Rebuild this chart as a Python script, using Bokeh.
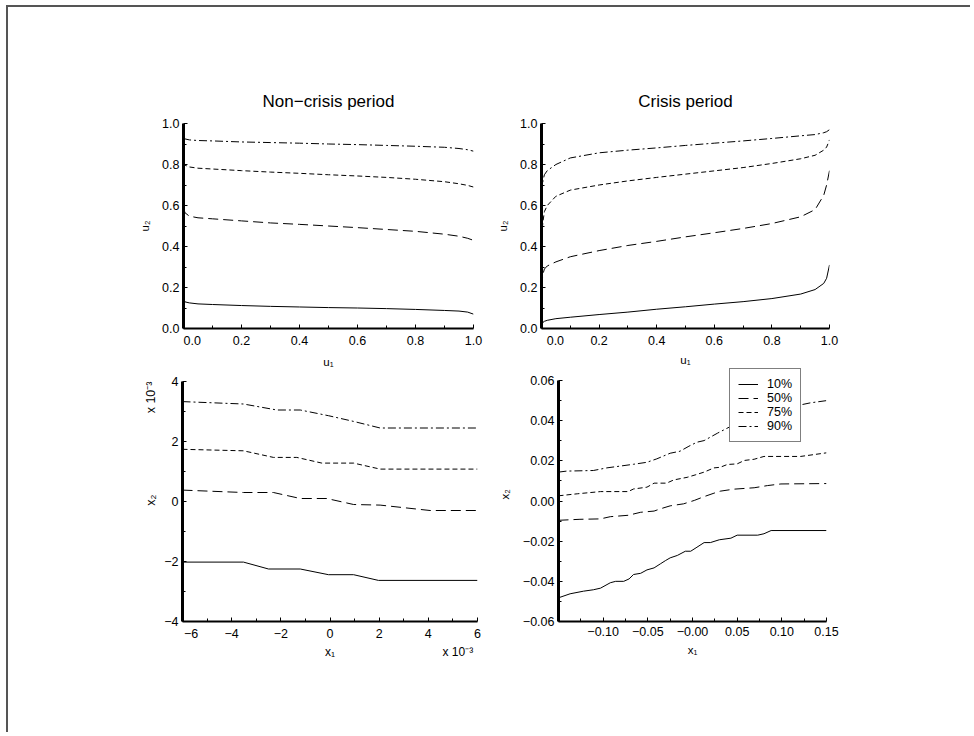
from math import pi
from bokeh.plotting import figure
from bokeh.models import FixedTicker, Legend, LegendItem, Range1d, LinearAxis
from bokeh.layouts import column, row
from bokeh.embed import file_html
from bokeh.resources import INLINE

FONT = "Liberation Sans"
INK = "black"

# ---------------- data ----------------
quantile_names = ["10%", "50%", "75%", "90%"]
quantile_dashes = ["solid", "10 5", "5 3", "8 3 2 3"]

# Top-left: non-crisis period, copula quantile curves u2 | u1
nc_u1 = [0.0, 0.005, 0.02, 0.05, 0.1, 0.2, 0.3, 0.4, 0.5, 0.6, 0.7, 0.8, 0.9, 0.95, 0.98, 1.0]
nc_q10 = [0.140, 0.130, 0.125, 0.120, 0.117, 0.112, 0.108, 0.105, 0.102, 0.100, 0.097, 0.093, 0.088, 0.085, 0.080, 0.070]
nc_q50 = [0.590, 0.565, 0.548, 0.540, 0.535, 0.525, 0.515, 0.508, 0.500, 0.492, 0.483, 0.474, 0.460, 0.450, 0.440, 0.430]
nc_q75 = [0.810, 0.797, 0.788, 0.782, 0.778, 0.770, 0.763, 0.757, 0.750, 0.744, 0.737, 0.728, 0.716, 0.706, 0.698, 0.690]
nc_q90 = [0.930, 0.925, 0.920, 0.917, 0.915, 0.910, 0.907, 0.904, 0.900, 0.897, 0.893, 0.889, 0.884, 0.878, 0.872, 0.865]

# Top-right: crisis period
cr_u1 = [0.0, 0.005, 0.01, 0.02, 0.05, 0.1, 0.2, 0.3, 0.4, 0.5, 0.6, 0.7, 0.8, 0.9, 0.95, 0.98, 0.99, 1.0]
cr_q10 = [0.020, 0.030, 0.035, 0.040, 0.048, 0.055, 0.068, 0.080, 0.094, 0.106, 0.119, 0.131, 0.146, 0.168, 0.190, 0.220, 0.245, 0.310]
cr_q50 = [0.200, 0.265, 0.290, 0.305, 0.325, 0.350, 0.380, 0.405, 0.425, 0.447, 0.467, 0.488, 0.512, 0.545, 0.580, 0.650, 0.700, 0.770]
cr_q75 = [0.450, 0.520, 0.570, 0.600, 0.645, 0.675, 0.700, 0.720, 0.737, 0.753, 0.769, 0.785, 0.805, 0.828, 0.845, 0.870, 0.885, 0.920]
cr_q90 = [0.660, 0.720, 0.750, 0.770, 0.800, 0.832, 0.857, 0.870, 0.881, 0.893, 0.904, 0.915, 0.927, 0.940, 0.946, 0.955, 0.960, 0.970]

# Bottom-left: non-crisis period, x2 | x1 (both in units of 10^-3)
ncx_q10_x = [-6.0, -3.52, -2.50, -1.21, -0.06, 0.96, 1.97, 6.0]
ncx_q10_y = [-2.02, -2.02, -2.25, -2.25, -2.44, -2.44, -2.63, -2.63]
ncx_q50_x = [-6.0, -3.52, -2.30, -1.21, -0.13, 0.96, 2.04, 4.07, 6.0]
ncx_q50_y = [0.38, 0.30, 0.30, 0.10, 0.10, -0.10, -0.12, -0.30, -0.30]
ncx_q75_x = [-6.0, -3.52, -2.30, -1.35, -0.33, 0.96, 2.04, 6.0]
ncx_q75_y = [1.74, 1.69, 1.47, 1.47, 1.28, 1.28, 1.08, 1.08]
ncx_q90_x = [-6.0, -3.52, -2.16, -1.21, -0.06, 0.96, 2.04, 6.0]
ncx_q90_y = [3.33, 3.25, 3.05, 3.05, 2.86, 2.67, 2.45, 2.45]

# Bottom-right: crisis period, x2 | x1
crx_q10_x = [-0.150, -0.137, -0.122, -0.111, -0.103, -0.092, -0.086, -0.077, -0.071, -0.066, -0.058, -0.051, -0.043, -0.036, -0.030,
             -0.025, -0.017, -0.008, -0.002, 0.005, 0.013, 0.020, 0.030, 0.043, 0.050, 0.073, 0.080, 0.088, 0.150]
crx_q10_y = [-0.0482, -0.0462, -0.0449, -0.0442, -0.0434, -0.0407, -0.0400, -0.0400, -0.0388, -0.0366, -0.0360, -0.0343, -0.0333, -0.0313, -0.0296,
             -0.0283, -0.0271, -0.0250, -0.0250, -0.0230, -0.0207, -0.0207, -0.0193, -0.0185, -0.0170, -0.0170, -0.0163, -0.0147, -0.0147]
crx_q50_x = [-0.150, -0.126, -0.103, -0.092, -0.072, -0.058, -0.043, -0.036, -0.025, -0.010, 0.002, 0.013, 0.024, 0.031, 0.046, 0.069, 0.084, 0.099, 0.150]
crx_q50_y = [-0.0096, -0.0091, -0.0089, -0.0078, -0.0071, -0.0056, -0.0050, -0.0039, -0.0024, -0.0014, 0.0003, 0.0022, 0.0039, 0.0049, 0.0059, 0.0066, 0.0077, 0.0085, 0.0087]
crx_q75_x = [-0.150, -0.129, -0.103, -0.072, -0.066, -0.051, -0.043, -0.029, -0.021, -0.006, 0.003, 0.013, 0.024, 0.031, 0.039, 0.050, 0.058, 0.069, 0.080, 0.121, 0.150]
crx_q75_y = [0.0026, 0.0036, 0.0047, 0.0047, 0.0060, 0.0069, 0.0089, 0.0089, 0.0105, 0.0118, 0.0130, 0.0144, 0.0165, 0.0168, 0.0182, 0.0185, 0.0202, 0.0208, 0.0222, 0.0222, 0.0240]
crx_q90_x = [-0.150, -0.141, -0.111, -0.096, -0.066, -0.051, -0.040, -0.025, -0.014, -0.004, 0.005, 0.013, 0.028, 0.042, 0.065, 0.091, 0.117, 0.132, 0.150]
crx_q90_y = [0.0144, 0.0149, 0.0152, 0.0165, 0.0183, 0.0193, 0.0210, 0.0238, 0.0248, 0.0273, 0.0293, 0.0301, 0.0338, 0.0370, 0.0410, 0.0440, 0.0475, 0.0489, 0.0500]

# ticks and tick labels
NB = "\u00a0"
u_ticks = [0.0, 0.2, 0.4, 0.6, 0.8, 1.0]
u_minor = [0.1, 0.3, 0.5, 0.7, 0.9]
u_tick_labels = ["0.0", "0.2", "0.4", "0.6", "0.8", "1.0"]
ncx_ticks = [-6, -4, -2, 0, 2, 4, 6]
ncx_minor = [-5, -3, -1, 1, 3, 5]
ncx_tick_labels = ["\u22126", "\u22124", "\u22122", "0", "2", "4", "6"]
ncy_ticks = [-4, -2, 0, 2, 4]
ncy_minor = [-3, -1, 1, 3]
ncy_tick_labels = ["\u22124", "\u22122", "0", "2", "4"]
crx_ticks = [-0.15, -0.10, -0.05, 0.0, 0.05, 0.10, 0.15]
crx_minor = [-0.125, -0.075, -0.025, 0.025, 0.075, 0.125]
crx_tick_labels = ["", "\u22120.10", "\u22120.05", "\u22120.00", "0.05", "0.10", "0.15"]
cry_ticks = [-0.06, -0.04, -0.02, 0.0, 0.02, 0.04, 0.06]
cry_minor = [-0.05, -0.03, -0.01, 0.01, 0.03, 0.05]
cry_tick_labels = ["\u22120.06", "\u22120.04", "\u22120.02", "0.00", "0.02", "0.04", "0.06"]
scale_text = "x 10\u207b\u00b3"

TICK_FS = "12.5px"
LAB_FS = "11.5px"


def make_fig(w, h, bl, br, bt, bb, xr, yr, title=None):
    p = figure(width=w, height=h, x_range=Range1d(*xr), y_range=Range1d(*yr), title=title,
               output_backend="svg", toolbar_location=None,
               min_border_left=bl, min_border_right=br, min_border_top=bt, min_border_bottom=bb)
    p.outline_line_color = None
    p.grid.visible = False
    p.background_fill_color = "white"
    p.border_fill_color = "white"
    return p


def style_axis(ax, lw):
    ax.axis_line_width = lw
    ax.axis_line_color = INK
    ax.major_tick_in = 4
    ax.major_tick_out = 0
    ax.minor_tick_in = 3
    ax.minor_tick_out = 0
    ax.major_tick_line_color = INK
    ax.minor_tick_line_color = INK
    ax.major_label_text_font = FONT
    ax.major_label_text_font_size = TICK_FS
    ax.major_label_text_color = INK
    ax.axis_label_text_font = FONT
    ax.axis_label_text_font_size = LAB_FS
    ax.axis_label_text_font_style = "normal"
    ax.axis_label_text_color = INK


def style_axes(p, xt, xm, xl, yt, ym, yl, xlabel, ylabel, xls, yls):
    xa = p.xaxis[0]
    ya = p.yaxis[0]
    xa.ticker = FixedTicker(ticks=xt, minor_ticks=xm)
    ya.ticker = FixedTicker(ticks=yt, minor_ticks=ym)
    xa.major_label_overrides = dict(zip(xt, xl))
    ya.major_label_overrides = dict(zip(yt, yl))
    style_axis(xa, 2)
    style_axis(ya, 3)
    xa.major_label_standoff = 5
    ya.major_label_standoff = 4
    xa.axis_label = xlabel
    ya.axis_label = ylabel
    xa.axis_label_standoff = xls
    ya.axis_label_standoff = yls


def label_axis(ticks, labels, orientation, standoff, size):
    # an axis without line or ticks, used only to place extra texts
    ax = LinearAxis(ticker=FixedTicker(ticks=ticks, minor_ticks=[]),
                    major_label_overrides=dict(zip(ticks, labels)),
                    major_label_orientation=orientation,
                    axis_line_color=None, major_tick_line_color=None, minor_tick_line_color=None,
                    major_tick_in=0, major_tick_out=0, minor_tick_in=0, minor_tick_out=0,
                    major_label_standoff=standoff, major_label_text_font=FONT,
                    major_label_text_font_size=size, major_label_text_color=INK)
    return ax


def style_title(p):
    p.title.align = "center"
    p.title.text_font = FONT
    p.title.text_font_size = "17px"
    p.title.text_font_style = "normal"
    p.title.text_color = INK
    p.title.standoff = 25


def add_lines(p, xs, ys):
    rs = []
    for x, y, d in zip(xs, ys, quantile_dashes):
        rs.append(p.line(x, y, line_color=INK, line_width=1, line_dash=d))
    return rs


# ---------------- top-left ----------------
tl = make_fig(482, 365, 175, 17, 116, 44, (0, 1), (0, 1), title="Non\u2212crisis period")
style_title(tl)
style_axes(tl, u_ticks, u_minor, [NB * 5 + u_tick_labels[0]] + u_tick_labels[1:], u_ticks, u_minor, u_tick_labels,
           "u\u2081", "u\u2082", 5, 8)
add_lines(tl, [nc_u1] * 4, [nc_q10, nc_q50, nc_q75, nc_q90])

# ---------------- top-right ----------------
tr = make_fig(482, 365, 51, 143, 116, 44, (0, 1), (0, 1), title="Crisis period")
style_title(tr)
style_axes(tr, u_ticks, u_minor, [NB * 8 + u_tick_labels[0]] + u_tick_labels[1:], u_ticks, u_minor, u_tick_labels,
           "u\u2081", "u\u2082", 3, 8)
add_lines(tr, [cr_u1] * 4, [cr_q10, cr_q50, cr_q75, cr_q90])

# ---------------- bottom-left ----------------
# frames of the bottom row reach a little above the top tick (room for the legend box on the right);
# axis bounds keep the axis lines to the ticked span
bl = make_fig(482, 370, 174, 13, 3, 113, (-6, 6), (-4, 4.467))
bl.border_fill_alpha = 0
bl.background_fill_alpha = 0
style_axes(bl, ncx_ticks, ncx_minor, [NB * 5 + ncx_tick_labels[0]] + ncx_tick_labels[1:],
           ncy_ticks, ncy_minor, ncy_tick_labels, None, None, 5, 9)
bl.yaxis[0].bounds = (-4, 4)
add_lines(bl, [ncx_q10_x, ncx_q50_x, ncx_q75_x, ncx_q90_x], [ncx_q10_y, ncx_q50_y, ncx_q75_y, ncx_q90_y])
# axis names and the "x 10^-3" scale notes, placed as texts of label-only axes
bl.add_layout(label_axis([0.23, 4.0], ["x\u2082", scale_text], pi / 2, 10, "12.5px"), "left")
bl.add_layout(label_axis([0, 5.2], ["x\u2081", scale_text], "horizontal", 1, "12px"), "below")

# ---------------- bottom-right ----------------
br = make_fig(482, 370, 68, 146, 3, 113, (-0.15, 0.15), (-0.06, 0.0665))
br.border_fill_alpha = 0
br.background_fill_alpha = 0
style_axes(br, crx_ticks, crx_minor, crx_tick_labels, cry_ticks, cry_minor, cry_tick_labels,
           "x\u2081", "x\u2082", 5, 9)
br.yaxis[0].bounds = (-0.06, 0.06)
rs = add_lines(br, [crx_q10_x, crx_q50_x, crx_q75_x, crx_q90_x], [crx_q10_y, crx_q50_y, crx_q75_y, crx_q90_y])
legend = Legend(items=[LegendItem(label=n, renderers=[r]) for n, r in zip(quantile_names, rs)],
                location=(171, 179), orientation="vertical",
                border_line_color=INK, border_line_width=1, background_fill_color="white",
                background_fill_alpha=1.0, label_text_font=FONT, label_text_font_size="12.5px",
                label_text_color=INK, glyph_width=20, glyph_height=14, label_height=14,
                label_standoff=9, padding=8, spacing=0, margin=0)
br.add_layout(legend)

top_row = row(tl, tr)
bottom_row = row(bl, br, margin=(-8, 0, 0, 0))
layout = column(top_row, bottom_row, margin=(7, 0, 0, 8),
                styles={"box-shadow": "-2px -2px 0 0 #555555"})

open("out.html", "w").write(file_html(layout, INLINE))
